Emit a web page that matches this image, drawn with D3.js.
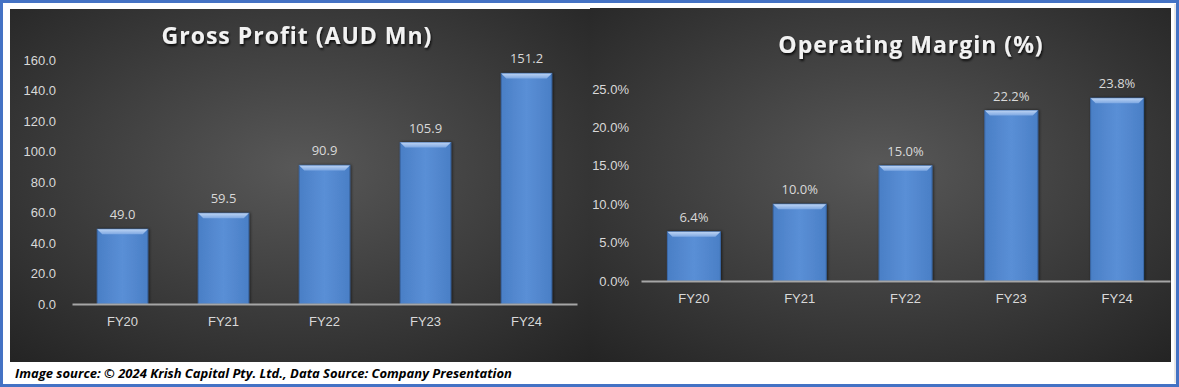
<!DOCTYPE html>
<html>
<head>
<meta charset="utf-8">
<script src="https://cdn.jsdelivr.net/npm/d3@7"></script>
<style>
  html, body { margin: 0; padding: 0; background: #fff; }
  svg { display: block; font-family: "Open Sans", "Noto Sans", sans-serif; }
</style>
</head>
<body>
<div id="chart"></div>
<script>
const years = ['FY20', 'FY21', 'FY22', 'FY23', 'FY24'];
const grossProfit = [49.0, 59.5, 90.9, 105.9, 151.2];
const opMargin = [6.4, 10.0, 15.0, 22.2, 23.8];
const gpTicks = [0, 20, 40, 60, 80, 100, 120, 140, 160];
const omTicks = [0, 5, 10, 15, 20, 25];

const W = 1179, H = 387;

const svg = d3.select('#chart').append('svg')
	.attr('width', W)
	.attr('height', H);

const defs = svg.append('defs');

const bg = defs.append('radialGradient')
	.attr('id', 'panelBg')
	.attr('cx', '50%').attr('cy', '45%').attr('r', '75%');
bg.append('stop').attr('offset', '0%').attr('stop-color', '#585858');
bg.append('stop').attr('offset', '100%').attr('stop-color', '#232323');

const barFill = defs.append('linearGradient')
	.attr('id', 'barFill')
	.attr('x1', 0).attr('x2', 1).attr('y1', 0).attr('y2', 0);
barFill.append('stop').attr('offset', '0%').attr('stop-color', '#4a7fc6');
barFill.append('stop').attr('offset', '50%').attr('stop-color', '#5a8fd6');
barFill.append('stop').attr('offset', '100%').attr('stop-color', '#4a7fc6');

const bevel = defs.append('linearGradient')
	.attr('id', 'bevel')
	.attr('x1', 0).attr('x2', 0).attr('y1', 0).attr('y2', 1);
bevel.append('stop').attr('offset', '0%').attr('stop-color', '#bcd3f3');
bevel.append('stop').attr('offset', '100%').attr('stop-color', '#7ea8e2');

const shadow = defs.append('filter').attr('id', 'barShadow')
	.attr('x', '-20%').attr('y', '-10%').attr('width', '140%').attr('height', '120%');
shadow.append('feDropShadow')
	.attr('dx', 1).attr('dy', 0).attr('stdDeviation', 1.5)
	.attr('flood-color', '#000').attr('flood-opacity', 0.6);

const titleShadow = defs.append('filter').attr('id', 'titleShadow');
titleShadow.append('feDropShadow')
	.attr('dx', 1).attr('dy', 2).attr('stdDeviation', 1.2)
	.attr('flood-color', '#000').attr('flood-opacity', 0.8);

// outer frame
svg.append('rect')
	.attr('x', 1.5).attr('y', 1.5)
	.attr('width', W - 3).attr('height', H - 3)
	.attr('fill', '#fff')
	.attr('stroke', '#4472c4')
	.attr('stroke-width', 3);
svg.append('line')
	.attr('x1', 1175).attr('x2', 1175).attr('y1', 4).attr('y2', 383)
	.attr('stroke', '#d0d0d0');

function drawChart(opts) {
	const p = opts.panel;
	const g = svg.append('g');

	g.append('rect')
		.attr('x', p.x).attr('y', p.y)
		.attr('width', p.w).attr('height', p.h)
		.attr('fill', 'url(#panelBg)');

	const x = d3.scaleBand()
		.domain(years)
		.range(opts.xRange)
		.paddingInner(0.5)
		.paddingOuter(0.25);

	const y = d3.scaleLinear()
		.domain([0, opts.yMax])
		.range(opts.yRange);

	g.append('text')
		.attr('x', opts.titleX)
		.attr('y', opts.titleY)
		.attr('text-anchor', 'middle')
		.attr('fill', '#f2f2f2')
		.attr('font-size', 23)
		.attr('font-weight', 'bold')
		.attr('letter-spacing', 1)
		.attr('filter', 'url(#titleShadow)')
		.text(opts.title);

	const yAxis = d3.axisLeft(y)
		.tickValues(opts.ticks)
		.tickSize(0)
		.tickPadding(0)
		.tickFormat(opts.tickFormat);

	const ya = g.append('g')
		.attr('transform', `translate(${opts.yLabelX},0)`)
		.call(yAxis);
	ya.select('.domain').remove();
	ya.selectAll('text')
		.attr('fill', '#d9d9d9')
		.attr('font-size', 13);

	const bars = g.selectAll('.bar')
		.data(opts.values)
		.join('g')
		.attr('class', 'bar');

	bars.append('rect')
		.attr('x', (d, i) => x(years[i]))
		.attr('y', d => y(d))
		.attr('width', x.bandwidth())
		.attr('height', d => y(0) - y(d))
		.attr('fill', 'url(#barFill)')
		.attr('stroke', '#3a6aaa')
		.attr('stroke-width', 1)
		.attr('filter', 'url(#barShadow)');

	bars.append('path')
		.attr('d', (d, i) => {
			const bx = x(years[i]), bw = x.bandwidth(), by = y(d);
			const b = 5;
			return `M${bx},${by}L${bx + bw},${by}L${bx + bw - b},${by + b}L${bx + b},${by + b}Z`;
		})
		.attr('fill', 'url(#bevel)');

	bars.append('text')
		.attr('x', (d, i) => x(years[i]) + x.bandwidth() / 2)
		.attr('y', d => y(d) - 10)
		.attr('text-anchor', 'middle')
		.attr('fill', '#d9d9d9')
		.attr('font-size', 13)
		.text(opts.labelFormat);

	const xa = g.append('g')
		.attr('transform', `translate(0,${y(0)})`)
		.call(d3.axisBottom(x).tickSize(0).tickPadding(13));
	xa.select('.domain')
		.attr('stroke', '#a6a6a6')
		.attr('stroke-width', 2);
	xa.selectAll('text')
		.attr('fill', '#d9d9d9')
		.attr('font-size', 13);
}

drawChart({
	panel: { x: 10, y: 9, w: 580, h: 353 },
	title: 'Gross Profit (AUD Mn)',
	titleX: 297, titleY: 44,
	values: grossProfit,
	ticks: gpTicks,
	yMax: 160,
	yRange: [304, 60],
	xRange: [72, 577],
	yLabelX: 56,
	tickFormat: d3.format('.1f'),
	labelFormat: d3.format('.1f'),
});

drawChart({
	panel: { x: 590, y: 8, w: 581, h: 354 },
	title: 'Operating Margin (%)',
	titleX: 911, titleY: 53,
	values: opMargin,
	ticks: omTicks,
	yMax: 25,
	yRange: [281, 89],
	xRange: [641, 1170],
	yLabelX: 629,
	tickFormat: d => d3.format('.1f')(d) + '%',
	labelFormat: d => d3.format('.1f')(d) + '%',
});

svg.append('text')
	.attr('x', 15)
	.attr('y', 378)
	.attr('fill', '#000')
	.attr('font-size', 13)
	.attr('font-weight', 'bold')
	.attr('font-style', 'italic')
	.text('Image source: © 2024 Krish Capital Pty. Ltd., Data Source: Company Presentation');
</script>
</body>
</html>
